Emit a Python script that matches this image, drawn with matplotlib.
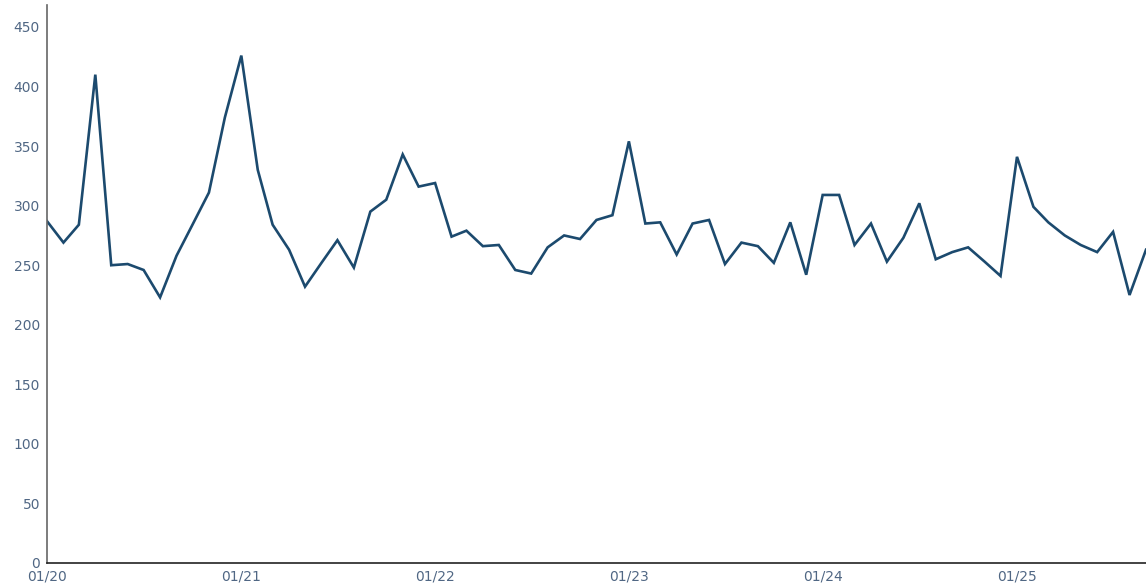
import numpy as np
import pandas as pd
import matplotlib
matplotlib.use('Agg')
import matplotlib.pyplot as plt
import matplotlib.dates as mdates

# monthly values, Jan 2020 .. Sep 2025
months = pd.date_range('2020-01-01', periods=69, freq='MS')
values = [287, 269, 284, 410, 250, 251, 246, 223, 258, 284, 311, 374,
          426, 330, 284, 263, 232, 252, 271, 248, 295, 305, 343, 316,
          319, 274, 279, 266, 267, 246, 243, 265, 275, 272, 288, 292,
          354, 285, 286, 259, 285, 288, 251, 269, 266, 252, 286, 242,
          309, 309, 267, 285, 253, 273, 302, 255, 261, 265, 253, 241,
          341, 299, 286, 275, 267, 261, 278, 225, 263]
tick_dates = pd.to_datetime(['2020-01-01', '2021-01-01', '2022-01-01',
                             '2023-01-01', '2024-01-01', '2025-01-01'])
y_ticks = [0, 50, 100, 150, 200, 250, 300, 350, 400, 450]

label_color = '#506784'

fig = plt.figure(figsize=(11.46, 5.87), dpi=100)
ax = fig.add_axes([47 / 1146, 24 / 587, 1 - 47 / 1146, (563 - 5) / 587])

ax.plot(months, values, color='#1c4a6e', linewidth=1.9, solid_joinstyle='miter')

ax.set_xlim(months[0], months[-1])
ax.set_ylim(0, 558 / 536 * 450)

ax.set_xticks(tick_dates)
ax.xaxis.set_major_formatter(mdates.DateFormatter('%m/%y'))
ax.set_yticks(y_ticks)

ax.tick_params(axis='both', length=0, labelsize=10, labelcolor=label_color)
ax.tick_params(axis='x', pad=4.5)
ax.tick_params(axis='y', pad=5)

for side in ['top', 'right']:
    ax.spines[side].set_visible(False)
ax.spines['left'].set_color('#666666')
ax.spines['left'].set_linewidth(1.2)
ax.spines['bottom'].set_color('#222222')
ax.spines['bottom'].set_linewidth(1.2)

fig.savefig('out.png', dpi=100)
